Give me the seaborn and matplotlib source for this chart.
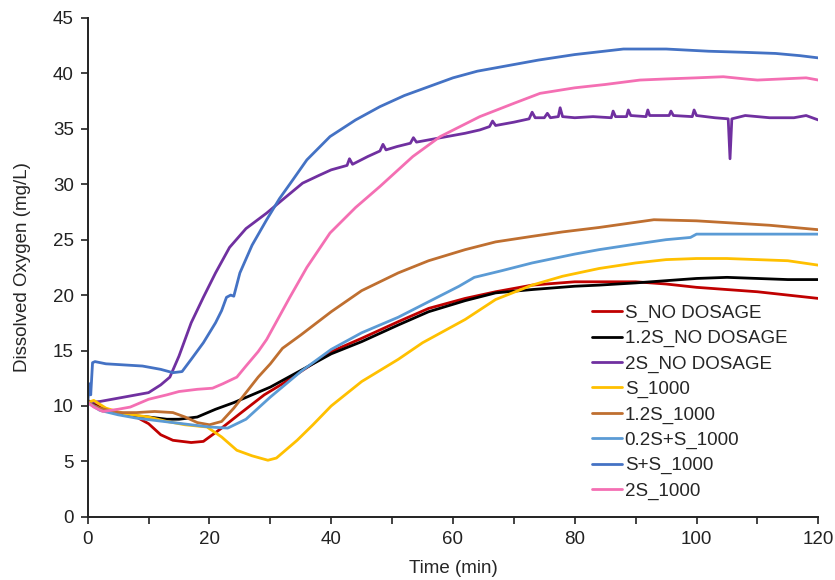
import numpy as np
import pandas as pd
import matplotlib
matplotlib.use('Agg')
import matplotlib.pyplot as plt
import seaborn as sns

# series (time in min, DO in mg/L)
s_nd_t = [0, 2, 5, 8, 10, 12, 14, 17, 19, 20, 22, 25, 29, 32, 35, 40, 45, 51, 56, 62, 67, 73, 80, 85, 90, 95, 100, 105, 110, 115, 120]
s_nd_v = [10.5, 9.9, 9.3, 9.0, 8.4, 7.4, 6.9, 6.7, 6.8, 7.2, 8.0, 9.3, 11.0, 12.0, 13.1, 14.9, 16.1, 17.6, 18.8, 19.7, 20.3, 20.9, 21.2, 21.2, 21.2, 21.0, 20.7, 20.5, 20.3, 20.0, 19.7]

s12_nd_t = [0, 2, 5, 8, 10, 13, 15, 18, 21, 24, 27, 30, 35, 40, 45, 51, 56, 62, 67, 73, 80, 84, 90, 95, 100, 105, 110, 115, 120]
s12_nd_v = [10.4, 9.8, 9.4, 9.1, 9.0, 8.8, 8.8, 9.0, 9.7, 10.3, 11.0, 11.7, 13.2, 14.7, 15.8, 17.3, 18.5, 19.5, 20.2, 20.5, 20.8, 20.9, 21.1, 21.3, 21.5, 21.6, 21.5, 21.4, 21.4]

s2_nd_t = [0, 2, 4, 7, 10, 12, 13.5, 15, 17, 19, 21, 23.3, 26, 29.4, 32, 35.3, 38, 40, 42.6, 43, 43.5, 46, 48, 48.5, 49, 50.8, 53, 53.5, 54, 56, 59, 62, 64.4, 66, 66.5, 67, 70, 72.5, 73, 73.5, 75, 75.5, 76, 77.3, 77.6, 78, 80, 83, 86, 86.3, 86.7, 88.5, 88.8, 89.2, 91.7, 92, 92.3, 95.5, 95.8, 96.2, 99.3, 99.6, 100, 103, 105.2, 105.5, 105.8, 108, 112, 116, 118, 120]
s2_nd_v = [10.3, 10.4, 10.6, 10.9, 11.2, 11.9, 12.6, 14.5, 17.5, 19.8, 22.0, 24.3, 26.0, 27.4, 28.6, 30.1, 30.8, 31.3, 31.7, 32.3, 31.8, 32.5, 33.0, 33.6, 33.1, 33.4, 33.7, 34.2, 33.8, 34.0, 34.3, 34.6, 34.9, 35.2, 35.7, 35.3, 35.6, 35.9, 36.5, 36.0, 36.0, 36.4, 36.0, 36.1, 36.9, 36.1, 36.0, 36.1, 36.0, 36.6, 36.1, 36.1, 36.7, 36.2, 36.1, 36.7, 36.2, 36.2, 36.6, 36.2, 36.1, 36.7, 36.2, 36.0, 35.9, 32.3, 35.9, 36.2, 36.0, 36.0, 36.2, 35.8]

s_1000_t = [0, 1, 3, 6, 10, 13, 16, 19.6, 22, 24.5, 27, 29.6, 31, 34.4, 37, 40, 45, 51, 55, 62, 67, 73, 78, 84, 90, 95, 100, 105, 110, 115, 120]
s_1000_v = [10.3, 10.5, 9.8, 9.3, 9.0, 8.6, 8.3, 8.1, 7.2, 6.0, 5.5, 5.1, 5.3, 6.9, 8.3, 10.0, 12.2, 14.2, 15.7, 17.8, 19.6, 20.9, 21.7, 22.4, 22.9, 23.2, 23.3, 23.3, 23.2, 23.1, 22.7]

s12_1000_t = [0, 2, 5, 8, 11, 14, 16, 18, 20, 22, 24, 26, 28, 30, 32, 35, 40, 45, 51, 56, 62, 67, 73, 78, 84, 93, 100, 106, 112, 120]
s12_1000_v = [10.3, 9.8, 9.4, 9.4, 9.5, 9.4, 9.0, 8.5, 8.3, 8.6, 9.8, 11.2, 12.6, 13.8, 15.2, 16.4, 18.5, 20.4, 22.0, 23.1, 24.1, 24.8, 25.3, 25.7, 26.1, 26.8, 26.7, 26.5, 26.3, 25.9]

s02_1000_t = [0, 2, 5, 8, 11, 14, 17, 20, 23, 26, 30, 35, 40, 45, 51, 56, 61, 63.5, 68, 73, 80, 84, 90, 95, 99, 100, 105, 110, 115, 120]
s02_1000_v = [10.3, 9.6, 9.2, 8.9, 8.7, 8.5, 8.3, 8.1, 8.0, 8.8, 10.8, 13.1, 15.1, 16.6, 18.0, 19.4, 20.8, 21.6, 22.2, 22.9, 23.7, 24.1, 24.6, 25.0, 25.2, 25.5, 25.5, 25.5, 25.5, 25.5]

ss_1000_t = [0, 0.3, 0.5, 0.8, 1.2, 3, 6, 9, 12, 14, 15.5, 17, 19, 21, 22, 22.8, 23.5, 24, 25, 27, 29.4, 31.5, 33.7, 36, 39.8, 44, 48, 52, 56, 60, 64, 70, 74, 80, 88, 95, 102, 108, 113, 117, 120]
ss_1000_v = [10.3, 12.0, 11.0, 13.9, 14.0, 13.8, 13.7, 13.6, 13.3, 13.0, 13.1, 14.2, 15.7, 17.5, 18.6, 19.8, 20.0, 19.9, 22.0, 24.5, 26.8, 28.7, 30.4, 32.2, 34.3, 35.8, 37.0, 38.0, 38.8, 39.6, 40.2, 40.8, 41.2, 41.7, 42.2, 42.2, 42.0, 41.9, 41.8, 41.6, 41.4]

s2_1000_t = [0, 1, 2.5, 5, 7, 10, 13, 15, 18, 20.5, 22.2, 24.5, 26, 28, 29.4, 31, 33.2, 36, 39.8, 44, 48, 53.4, 57.9, 64.4, 70, 74.3, 80, 85, 90.7, 95, 100, 104.4, 108, 110, 114, 118, 120]
s2_1000_v = [10.3, 9.9, 9.5, 9.7, 9.9, 10.6, 11.0, 11.3, 11.5, 11.6, 12.0, 12.6, 13.6, 14.9, 16.0, 17.6, 19.8, 22.5, 25.6, 27.9, 29.8, 32.5, 34.3, 36.1, 37.3, 38.2, 38.7, 39.0, 39.4, 39.5, 39.6, 39.7, 39.5, 39.4, 39.5, 39.6, 39.4]

labels = ['S_NO DOSAGE', '1.2S_NO DOSAGE', '2S_NO DOSAGE', 'S_1000',
          '1.2S_1000', '0.2S+S_1000', 'S+S_1000', '2S_1000']
colors = ['#C00000', '#000000', '#7030A0', '#FFC000',
          '#BF6F30', '#5B9BD5', '#4472C4', '#F46FB3']

series = [(s_nd_t, s_nd_v), (s12_nd_t, s12_nd_v), (s2_nd_t, s2_nd_v),
          (s_1000_t, s_1000_v), (s12_1000_t, s12_1000_v), (s02_1000_t, s02_1000_v),
          (ss_1000_t, ss_1000_v), (s2_1000_t, s2_1000_v)]

frames = []
for lab, (t, v) in zip(labels, series):
    frames.append(pd.DataFrame({'time': t, 'DO': v, 'series': lab}))
df = pd.concat(frames, ignore_index=True)

sns.set_style('ticks')
plt.rcParams['font.family'] = ['Liberation Sans', 'DejaVu Sans']

fig = plt.figure(figsize=(8.35, 5.8), dpi=100)
ax = fig.add_axes([0.105, 0.109, 0.875, 0.86])

sns.lineplot(data=df, x='time', y='DO', hue='series', hue_order=labels,
             palette=dict(zip(labels, colors)), estimator=None, sort=False,
             linewidth=2, ax=ax)

ax.set_xlim(0, 120)
ax.set_ylim(0, 45)
ax.set_xticks(np.arange(0, 121, 20))
ax.set_xticks(np.arange(0, 121, 10), minor=True)
ax.set_yticks(np.arange(0, 46, 5))
ax.tick_params(which='both', labelsize=13.5, direction='out', length=5, width=1.2,
               colors='#222222', pad=5)
for s in ['left', 'bottom']:
    ax.spines[s].set_linewidth(1.4)
    ax.spines[s].set_color('#222222')
sns.despine(ax=ax)
ax.set_xlabel('Time (min)', fontsize=13.5, labelpad=9)
ax.set_ylabel('Dissolved Oxygen (mg/L)', fontsize=13.5, labelpad=16)

ax.legend(loc='upper left', bbox_to_anchor=(0.69, 0.425), frameon=False,
          fontsize=13.5, handlelength=1.6, handletextpad=0.15,
          labelspacing=0.43, borderaxespad=0, borderpad=0)

fig.savefig('out.png', dpi=100)
